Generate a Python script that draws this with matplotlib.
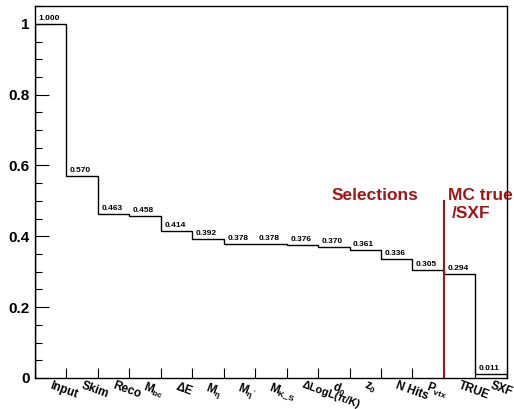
import numpy as np
import matplotlib.pyplot as plt
from matplotlib.ticker import MultipleLocator, FuncFormatter

plt.rcParams['font.family'] = ['Liberation Sans', 'DejaVu Sans']
plt.rcParams['font.weight'] = 'bold'
plt.rcParams['mathtext.fontset'] = 'custom'
plt.rcParams['mathtext.rm'] = 'Liberation Sans:bold'
plt.rcParams['mathtext.bf'] = 'Liberation Sans:bold'
plt.rcParams['mathtext.it'] = 'Liberation Sans:bold:italic'
plt.rcParams['mathtext.default'] = 'bf'

# cut flow: fraction of events surviving each step
steps = ['Input', 'Skim', 'Reco', r'M$_{bc}$', r'$\Delta$E', r'M$_{\eta}$',
         r"M$_{\eta'}$", r'M$_{K\_S}$', 'ΔLogL(π/K)', r'd$_{0}$',
         r'z$_{0}$', 'N Hits', r'P$_{vtx}$', 'TRUE', 'SXF']
efficiency = [1.000, 0.570, 0.463, 0.458, 0.414, 0.392, 0.378, 0.378,
              0.376, 0.370, 0.361, 0.336, 0.305, 0.294, 0.011]
truth_split = 13  # first bin after the reconstruction selections
red = '#a31515'

edges = np.arange(len(efficiency) + 1)
centers = edges[:-1] + 0.5

fig = plt.figure(figsize=(5.14, 4.09), dpi=100)
ax = fig.add_axes([0.068, 0.076, 0.918, 0.909])

ax.stairs(efficiency, edges, color='black', linewidth=1.0, baseline=0)

# value printed above each bin
for xc, v in zip(centers, efficiency):
    ax.text(xc - 0.05, v + 0.006, f'{v:.3f}', ha='center', va='bottom',
            fontsize=6, fontweight='bold')

# bin names below the axis, slanted; the long PID label is set a bit smaller
for xc, name in zip(centers, steps):
    size = 7.8 if len(name) > 8 and '$' not in name else 8.5
    ax.text(xc + 0.04, -0.005, name, ha='left', va='top', rotation=-20,
            rotation_mode='anchor', fontsize=size, fontweight='bold',
            transform=ax.transData, clip_on=False)

ax.plot([truth_split, truth_split], [0, 0.5], color=red, linewidth=1.5)
ax.text(10.8, 0.515, 'Selections', color=red, fontsize=12.5,
        fontweight='bold', ha='center', va='center')
ax.text(13.12, 0.515, 'MC true', color=red, fontsize=12.5,
        fontweight='bold', ha='left', va='center', clip_on=False)
ax.text(13.25, 0.465, '/SXF', color=red, fontsize=12.5,
        fontweight='bold', ha='left', va='center')

ax.set_xlim(0, len(efficiency))
ax.set_ylim(0, 1.05)
ax.set_xticks(edges)
ax.set_xticklabels([])
ax.tick_params(axis='x', direction='in', length=7, width=0.8)
ax.yaxis.set_major_locator(MultipleLocator(0.2))
ax.yaxis.set_minor_locator(MultipleLocator(0.05))
ax.yaxis.set_major_formatter(FuncFormatter(lambda v, p: f'{v:g}'))
ax.tick_params(axis='y', which='major', direction='in', length=10,
               width=0.8, labelsize=11, pad=4)
ax.tick_params(axis='y', which='minor', direction='in', length=5, width=0.8)
for lab in ax.get_yticklabels():
    lab.set_fontweight('bold')
for sp in ax.spines.values():
    sp.set_linewidth(1.0)

fig.savefig('out.png', dpi=100)
